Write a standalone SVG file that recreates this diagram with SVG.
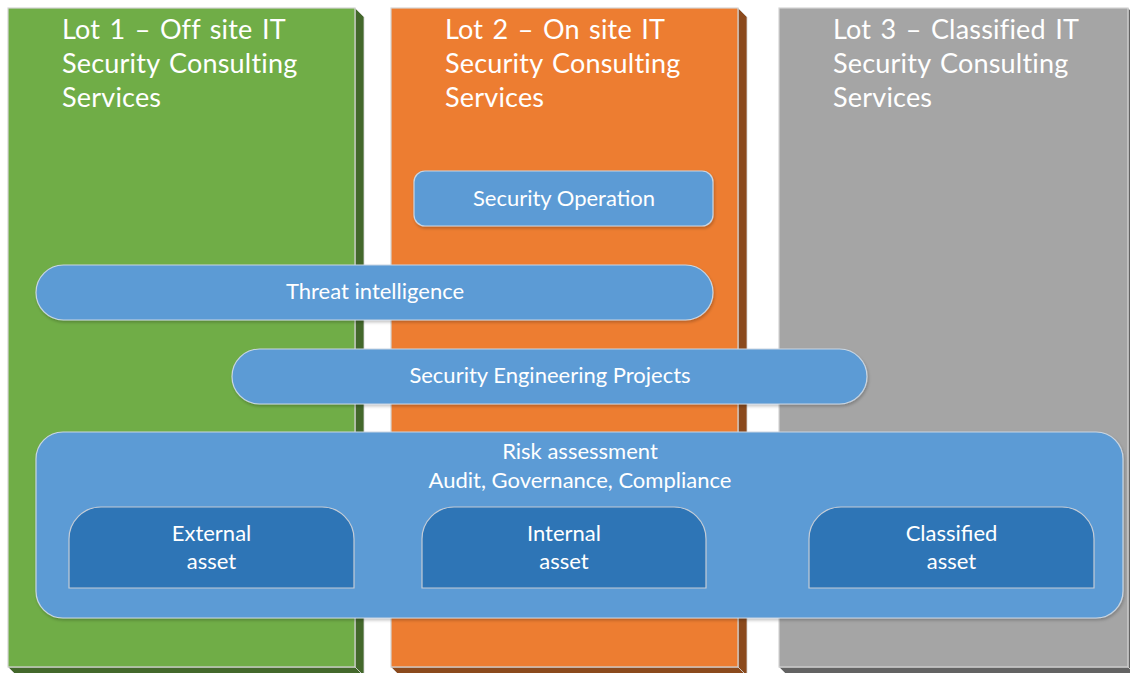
<svg xmlns="http://www.w3.org/2000/svg" width="1130" height="673" viewBox="0 0 1130 673">
  <defs>
    <filter id="shadow" x="-5%" y="-10%" width="110%" height="130%">
      <feDropShadow dx="1" dy="2" stdDeviation="1.5" flood-color="#000" flood-opacity="0.22"/>
    </filter>
  </defs>
  <style>
    .face { stroke: #d4d4d4; stroke-width: 1.2; }
    .edge { stroke: #d4d4d4; stroke-width: 0.8; }
    .title { font-family: Lato, "Open Sans", sans-serif; font-size: 27px; letter-spacing: 0.2px; word-spacing: 2.2px; fill: #ffffff; }
    .pill { fill: #5b9bd5; stroke: #c9d6e3; stroke-width: 1.2; filter: url(#shadow); }
    .asset { fill: #2e75b6; stroke: #c4ccd6; stroke-width: 1.2; }
    .label { font-family: Lato, "Open Sans", sans-serif; font-size: 22px; fill: #ffffff; text-anchor: middle; }
  </style>
  <rect width="1130" height="673" fill="#ffffff"/>

  <!-- Lot columns, drawn as bevelled blocks -->
  <g id="lot1">
    <polygon class="edge" points="355,8 364,17 364,676 355,667" fill="#43682b"/>
    <polygon class="edge" points="8,667 355,667 364,676 17,676" fill="#43682b"/>
    <rect class="face" x="8" y="8" width="347" height="659" fill="#70ad47"/>
    <text class="title" x="62" y="39">Lot 1 – Off site IT</text>
    <text class="title" x="62" y="73">Security Consulting</text>
    <text class="title" x="62" y="107">Services</text>
  </g>
  <g id="lot2">
    <polygon class="edge" points="738,8 747,17 747,676 738,667" fill="#8b4a1d"/>
    <polygon class="edge" points="391,667 738,667 747,676 400,676" fill="#8b4a1d"/>
    <rect class="face" x="391" y="8" width="347" height="659" fill="#ed7d31"/>
    <text class="title" x="445" y="39">Lot 2 – On site IT</text>
    <text class="title" x="445" y="73">Security Consulting</text>
    <text class="title" x="445" y="107">Services</text>
  </g>
  <g id="lot3">
    <polygon class="edge" points="1128,8 1137,17 1137,676 1128,667" fill="#636363"/>
    <polygon class="edge" points="779,667 1128,667 1137,676 788,676" fill="#636363"/>
    <rect class="face" x="779" y="8" width="349" height="659" fill="#a5a5a5"/>
    <text class="title" x="833" y="39">Lot 3 – Classified IT</text>
    <text class="title" x="833" y="73">Security Consulting</text>
    <text class="title" x="833" y="107">Services</text>
  </g>

  <!-- Service bands -->
  <g id="security-operation">
    <rect class="pill" x="414" y="171" width="299" height="55" rx="11"/>
    <text class="label" x="564" y="206">Security Operation</text>
  </g>
  <g id="threat-intelligence">
    <rect class="pill" x="36" y="265" width="677" height="55" rx="27.5"/>
    <text class="label" x="375" y="299">Threat intelligence</text>
  </g>
  <g id="security-engineering">
    <rect class="pill" x="232" y="349" width="635" height="55" rx="27.5"/>
    <text class="label" x="550" y="383">Security Engineering Projects</text>
  </g>
  <g id="risk-assessment">
    <rect class="pill" x="36" y="432" width="1087" height="186" rx="27"/>
    <text class="label" x="580" y="459">Risk assessment</text>
    <text class="label" x="580" y="488">Audit, Governance, Compliance</text>
  </g>

  <!-- Asset categories -->
  <g id="external-asset">
    <path class="asset" d="M69,588 V539 A32,32 0 0 1 101,507 H322 A32,32 0 0 1 354,539 V588 Z"/>
    <text class="label" x="211.5" y="541">External</text>
    <text class="label" x="211.5" y="569">asset</text>
  </g>
  <g id="internal-asset">
    <path class="asset" d="M422,588 V539 A32,32 0 0 1 454,507 H674 A32,32 0 0 1 706,539 V588 Z"/>
    <text class="label" x="564" y="541">Internal</text>
    <text class="label" x="564" y="569">asset</text>
  </g>
  <g id="classified-asset">
    <path class="asset" d="M809,588 V539 A32,32 0 0 1 841,507 H1062 A32,32 0 0 1 1094,539 V588 Z"/>
    <text class="label" x="951.5" y="541">Classified</text>
    <text class="label" x="951.5" y="569">asset</text>
  </g>

  <!-- no connectors in this diagram -->
  <g id="connectors"/>
</svg>
